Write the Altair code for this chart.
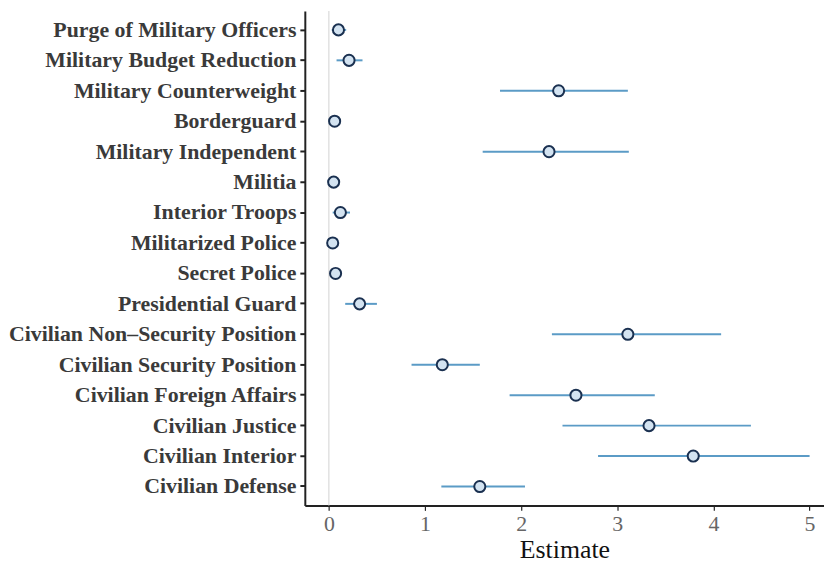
import altair as alt
import pandas as pd

categories = [
    "Purge of Military Officers", "Military Budget Reduction", "Military Counterweight",
    "Borderguard", "Military Independent", "Militia", "Interior Troops",
    "Militarized Police", "Secret Police", "Presidential Guard",
    "Civilian Non\u2013Security Position", "Civilian Security Position",
    "Civilian Foreign Affairs", "Civilian Justice", "Civilian Interior", "Civilian Defense",
]
estimate = [0.10, 0.21, 2.39, 0.06, 2.29, 0.05, 0.12, 0.04, 0.07, 0.32,
            3.11, 1.18, 2.57, 3.33, 3.79, 1.57]
lower = [0.03, 0.08, 1.78, 0.02, 1.60, 0.02, 0.04, 0.01, 0.03, 0.17,
         2.32, 0.86, 1.88, 2.43, 2.80, 1.17]
upper = [0.18, 0.35, 3.11, 0.10, 3.12, 0.08, 0.22, 0.07, 0.11, 0.50,
         4.08, 1.57, 3.39, 4.39, 5.00, 2.04]
x_ticks = [0, 1, 2, 3, 4, 5]

df = pd.DataFrame({"term": categories, "estimate": estimate, "lower": lower, "upper": upper})

FONT = "Liberation Serif"
xscale = alt.Scale(domain=[-0.25, 5.15], nice=False, zero=False)
yscale = alt.Scale(type="band", domain=categories, paddingInner=0, paddingOuter=0.12)

zero = alt.Chart(pd.DataFrame({"z": [0]})).mark_rule(color="#d9d9d9", strokeWidth=1.2).encode(
    x=alt.X("z:Q", scale=xscale)
)

bars = alt.Chart(df).mark_rule(color="#5b9bc6", strokeWidth=2).encode(
    y=alt.Y("term:N", scale=yscale, sort=categories),
    x=alt.X("lower:Q", scale=xscale),
    x2="upper:Q",
)

points = alt.Chart(df).mark_point(
    shape="circle", filled=True, fill="#d3e3f1", stroke="#1a3050", strokeWidth=2,
    size=125, opacity=1,
).encode(
    y=alt.Y("term:N", scale=yscale, sort=categories,
            axis=alt.Axis(title=None, labelFont=FONT, labelFontSize=22, labelFontWeight="bold",
                          labelColor="#3a3a3a", labelPadding=4, labelLimit=0, tickColor="#222",
                          tickSize=5, tickWidth=2, domainColor="#222", domainWidth=2)),
    x=alt.X("estimate:Q", scale=xscale,
            axis=alt.Axis(title="Estimate", values=x_ticks, format="d", titleFont=FONT,
                          titleFontSize=26, titleFontWeight="normal", titleColor="#111",
                          titlePadding=2, labelFont=FONT, labelFontSize=22, labelColor="#666",
                          labelPadding=3, tickColor="#222", tickSize=5, tickWidth=1.2,
                          domainColor="#222", domainWidth=2, grid=False)),
)

chart = alt.layer(zero, bars, points).properties(
    width=523, height=498, padding=0
).configure_view(stroke=None).configure_axis(grid=False)

chart.save("out.html", embed_options={"renderer": "svg", "actions": False})
